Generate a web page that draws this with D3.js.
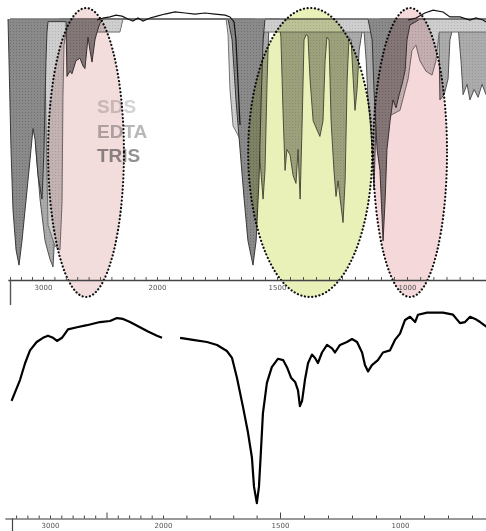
<!DOCTYPE html>
<html>
<head>
<meta charset="utf-8">
<script src="https://cdnjs.cloudflare.com/ajax/libs/d3/7.8.5/d3.min.js"></script>
<style>
  html, body { margin: 0; padding: 0; background: #fff; }
  svg { display: block; }
</style>
</head>
<body>
<div id="chart"></div>
<script>
// labelled wavenumbers on both x axes
const axisBreaks = [3000, 2000, 1500, 1000];
const axisLabels = ["3000", "2000", "1500", "1000"];
const legendNames = ["SDS", "EDTA", "TRIS"];

// top panel: reference spectra, [wavenumber, %T]
const darkBand = [[3318,100],[3309,84],[3291,50],[3273,27],[3245,11.5],[3218,5.7],[3191,15],[3145,34.5],[3109,50],[3091,58],[3073,54],[3045,40],[3009,31],[2991,50],[2982,69],[2974,84],[2965,95],[2956,99],[2798,99],[2790,78],[2763,80],[2746,79],[2711,84],[2676,85],[2649,82],[2632,81],[2605,93],[2588,88],[2570,83.5],[2544,92],[2526,95],[2500,98.5],[2465,100],[1704,100],[1687,92],[1671,69],[1654,50],[1637,31],[1621,15],[1600,5.7],[1587,15],[1575,38],[1566,69],[1558,92],[1550,100],[1150,100],[1134,92],[1127,73],[1115,50],[1104,42],[1092,15],[1084,31],[1077,50],[1065,61],[1054,69],[1042,66],[1030,71],[1019,75],[1007,80.5],[1000,92],[989,97.7],[966,99],[951,100],[700,100]];
const mediumBand = [[3082,100],[3064,50],[3027,31],[2982,15],[2939,8],[2912,5],[2895,19],[2877,61],[2860,100],[1591,100],[1583,77],[1571,46],[1558,31],[1550,42],[1541,77],[1533,100],[1492,100],[1485,93],[1477,65],[1469,42],[1462,50],[1450,48],[1438,40],[1427,37],[1419,50],[1411,31],[1404,57.5],[1396,92],[1388,94],[1381,93.5],[1373,77],[1361,61],[1346,57.5],[1335,55],[1323,61],[1315,84],[1308,93],[1300,92],[1292,61],[1281,42],[1273,32],[1265,38],[1257,31],[1246,22],[1238,38],[1230,77],[1223,93],[1215,92],[1207,77],[1200,65],[1192,73],[1184,88],[1173,95],[1165,95],[1157,84],[1150,69],[1142,61],[1134,50],[1127,34.5],[1119,61],[1111,92],[1104,100],[880,100],[875,69],[859,71],[844,77],[837,92],[825,97],[806,97],[795,84],[787,71],[772,75],[761,69],[745,73],[730,70],[715,75],[700,71]];
const lightBand = [[2991,100],[2974,61],[2956,21],[2895,13],[2851,11.5],[2833,30],[2825,70],[2816,90],[2798,95],[2700,95],[2456,95],[2325,95],[2298,100],[1712,100],[1704,94],[1696,73],[1683,59],[1654,54],[1629,31],[1604,19],[1579,50],[1566,84],[1554,95],[1134,95],[1119,84],[1104,65],[1065,63],[1027,65],[996,77],[981,88],[966,90],[951,84],[928,80],[905,78.5],[890,84],[878,95],[700,95]];
// sample trace peeking above the baseline
const sampleLeft = [[2526,99.6],[2465,100.4],[2412,100.8],[2360,101.5],[2307,101.1],[2255,100],[2211,99.2],[2167,100.4],[2123,99.2],[2061,100.4],[2000,101.1],[1967,101.9],[1925,102.7],[1883,102.3],[1842,101.9],[1800,102.3],[1758,101.9],[1716,101.5],[1696,100.8],[1679,98.9],[1671,92],[1662,74.7],[1654,59.4]];
const sampleRight = [[996,99.6],[966,100.4],[932,102.3],[901,103.4],[863,102.7],[837,100.8],[799,100.8],[761,99.6],[738,100.4],[711,99.6],[700,98.9]];

// bottom panel: sample spectrum, [wavenumber, %T] (null = gap in trace)
const lowerSpectrum = [[3340,52],[3265,62],[3220,70],[3177,76],[3118,80],[3062,82],[3018,83],[2973,82],[2938,80.5],[2894,82],[2867,84],[2841,86],[2761,87],[2673,88],[2558,89.5],[2469,90],[2407,91.4],[2354,91],[2292,89.5],[2204,87],[2133,85],[2053,83],[2009,82],[1968,null],[1927,82],[1872,81],[1812,80],[1769,78.6],[1727,75.7],[1705,72.4],[1684,63],[1658,49],[1637,37],[1620,25],[1611,11],[1599,3.3],[1590,11],[1582,27],[1573,46],[1556,60.5],[1535,68],[1509,72],[1487,71.4],[1471,68],[1454,63],[1437,61],[1425,57],[1417,49.5],[1408,52],[1396,62],[1383,70],[1367,74],[1354,72.4],[1342,70],[1325,75],[1304,78.6],[1283,77],[1271,75],[1250,78.6],[1221,80],[1200,81.4],[1179,80],[1158,75],[1146,69],[1133,66],[1117,69],[1092,71.4],[1071,75],[1042,76],[1021,81],[1000,84],[979,90.5],[958,92],[937,89.5],[925,93],[887,94],[862,94],[821,94],[779,93],[750,89],[729,89.5],[708,92],[687,91],[666,89.5],[637,87]];

// highlighted regions in the top panel, [from, to] wavenumber
const highlightRanges = [[2955, 2290], [1620, 1134], [1130, 848]];
const highlightColors = ["#f2dcdc", "#e9f1b9", "#f4d8da"];

const width = 486, height = 531;

const svg = d3.select("#chart")
    .append("svg")
    .attr("width", width)
    .attr("height", height);

// the spectrometer plots use a piecewise wavenumber axis
const xTop = d3.scaleLinear()
    .domain([3320, 3000, 2000, 1500, 1000, 700])
    .range([7.8, 43, 157, 277, 407, 486]);
const yTop = d3.scaleLinear().domain([0, 100]).range([280, 19]);

const xLow = d3.scaleLinear()
    .domain([3400, 3000, 2000, 1500, 1000, 600])
    .range([4.8, 50, 163, 280, 400, 496]);
const yLow = d3.scaleLinear().domain([0, 100]).range([510, 300]);

// dotted halftone look of the gray fills
const defs = svg.append("defs");
function dotPattern(id, base, dot) {
    const p = defs.append("pattern")
        .attr("id", id)
        .attr("width", 3).attr("height", 3)
        .attr("patternUnits", "userSpaceOnUse");
    p.append("rect").attr("width", 3).attr("height", 3).attr("fill", base);
    p.append("rect").attr("x", 1).attr("y", 1).attr("width", 1).attr("height", 1).attr("fill", dot);
}
dotPattern("dotsDark", "#8a8a8a", "#707070");
dotPattern("dotsMid", "#ababab", "#969696");
dotPattern("dotsLight", "#cecece", "#b5b5b5");

const bandArea = d3.area()
    .x(d => xTop(d[0]))
    .y0(yTop(100))
    .y1(d => yTop(d[1]));
const bandLine = d3.line()
    .x(d => xTop(d[0]))
    .y(d => yTop(d[1]));

const bands = [
    { data: mediumBand, fill: "url(#dotsMid)", stroke: "#444" },
    { data: lightBand, fill: "url(#dotsLight)", stroke: "#666" },
    { data: darkBand, fill: "url(#dotsDark)", stroke: "#2a2a2a" }
];

bands.forEach(b => {
    svg.append("path")
        .datum(b.data)
        .attr("d", bandArea)
        .attr("fill", b.fill);
    svg.append("path")
        .datum(b.data)
        .attr("d", bandLine)
        .attr("fill", "none")
        .attr("stroke", b.stroke)
        .attr("stroke-width", 0.9);
});

// baseline at 100 %T
svg.append("line")
    .attr("x1", xTop(3300)).attr("x2", width)
    .attr("y1", yTop(100)).attr("y2", yTop(100))
    .attr("stroke", "#777")
    .attr("stroke-width", 1.5);

[sampleLeft, sampleRight].forEach(s => {
    svg.append("path")
        .datum(s)
        .attr("d", bandLine)
        .attr("fill", "none")
        .attr("stroke", "#111")
        .attr("stroke-width", 1.2);
});

// legend text, sits under the tinted ellipse
const legendColors = ["#d4d4d4", "#b8b8b8", "#929292"];
svg.selectAll("text.legend")
    .data(legendNames)
    .enter().append("text")
    .attr("class", "legend")
    .attr("x", 97)
    .attr("y", (d, i) => 113 + i * 24.5)
    .attr("font-family", "Liberation Sans, Arial, sans-serif")
    .attr("font-weight", "bold")
    .attr("font-size", "19px")
    .attr("fill", (d, i) => legendColors[i])
    .text(d => d);

// highlight ellipses
svg.selectAll("ellipse.hl")
    .data(highlightRanges)
    .enter().append("ellipse")
    .attr("class", "hl")
    .attr("cx", d => (xTop(d[0]) + xTop(d[1])) / 2)
    .attr("cy", 152.5)
    .attr("rx", d => (xTop(d[1]) - xTop(d[0])) / 2)
    .attr("ry", 144.5)
    .attr("fill", (d, i) => highlightColors[i])
    .style("mix-blend-mode", "multiply")
    .attr("stroke", "#111")
    .attr("stroke-width", 2.2)
    .attr("stroke-linecap", "round")
    .attr("stroke-dasharray", "0.1 3.6");

// top axis
const topTicks = d3.range(3300, 2000, -100).concat(d3.range(2000, 700, -50));
svg.append("g")
    .attr("transform", `translate(0,${yTop(0)})`)
    .call(d3.axisBottom(xTop).tickValues(topTicks).tickSize(-3).tickSizeOuter(0).tickFormat(""))
    .call(g => g.select(".domain").attr("stroke", "#444").attr("stroke-width", 1.6))
    .call(g => g.selectAll(".tick line").attr("stroke", "#555"));
svg.append("g")
    .attr("transform", `translate(0,${yTop(0)})`)
    .call(d3.axisBottom(xTop).tickValues(axisBreaks).tickSize(0).tickPadding(5)
        .tickFormat((d, i) => axisLabels[i]))
    .call(g => g.select(".domain").remove())
    .call(g => g.selectAll("text").attr("font-size", "7px").attr("fill", "#555")
        .attr("font-family", "DejaVu Sans, sans-serif"));
svg.append("line")
    .attr("x1", 10.5).attr("x2", 10.5)
    .attr("y1", yTop(0)).attr("y2", 305)
    .attr("stroke", "#555").attr("stroke-width", 1.4);

// bottom spectrum
const lowLine = d3.line()
    .defined(d => d[1] != null)
    .x(d => xLow(d[0]))
    .y(d => yLow(d[1]));
svg.append("path")
    .datum(lowerSpectrum)
    .attr("d", lowLine)
    .attr("fill", "none")
    .attr("stroke", "#000")
    .attr("stroke-width", 2.2)
    .attr("stroke-linejoin", "round");

// bottom axis
const lowY = 518.5;
const lowTicks = d3.range(3300, 600, -100);
svg.append("g")
    .attr("transform", `translate(0,${lowY})`)
    .call(d3.axisBottom(xLow).tickValues(lowTicks).tickSize(-3).tickSizeOuter(0).tickFormat(""))
    .call(g => g.select(".domain").attr("stroke", "#333").attr("stroke-width", 1.2))
    .call(g => g.selectAll(".tick line").attr("stroke", "#444")
        .attr("y2", d => (d === 2500 || d === 1500) ? -6 : -3));
svg.append("g")
    .attr("transform", `translate(0,${lowY})`)
    .call(d3.axisBottom(xLow).tickValues(axisBreaks).tickSize(0).tickPadding(5)
        .tickFormat((d, i) => axisLabels[i]))
    .call(g => g.select(".domain").remove())
    .call(g => g.selectAll("text").attr("font-size", "7px").attr("fill", "#555")
        .attr("font-family", "DejaVu Sans, sans-serif"));
svg.append("line")
    .attr("x1", 12.5).attr("x2", 12.5)
    .attr("y1", lowY).attr("y2", height)
    .attr("stroke", "#444").attr("stroke-width", 1.2);
</script>
</body>
</html>
